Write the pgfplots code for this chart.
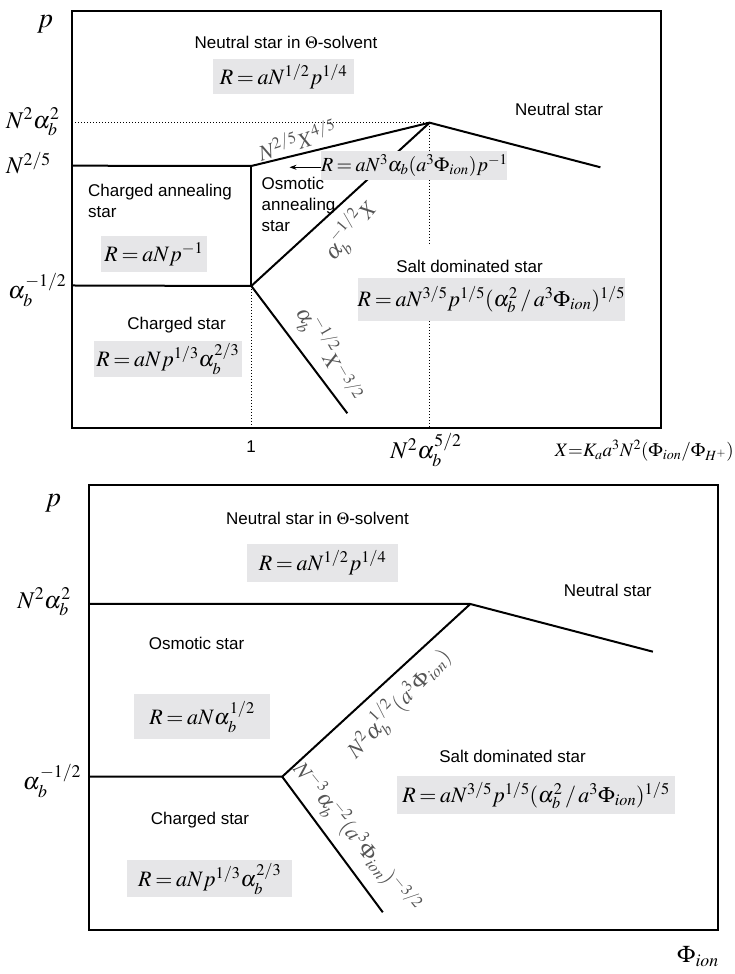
\documentclass[border=0pt]{standalone}
\usepackage{mathptmx}
\usepackage[no-math]{fontspec}
\setmainfont{Liberation Sans}
\usepackage{pgfplots}
\pgfplotsset{compat=1.18}
\usetikzlibrary{arrows.meta}
\definecolor{boxgray}{RGB}{230,230,232}
\definecolor{lblgray}{RGB}{85,85,85}
\newcommand{\tx}{\fontsize{17}{21}\selectfont}
\newcommand{\fm}{\fontsize{22}{26}\selectfont}
\newcommand{\fs}{\fontsize{20}{24}\selectfont}
\newcommand{\fl}{\fontsize{22}{24}\selectfont}
\thickmuskip=3mu plus 2mu
\tikzset{
  gbox/.style={fill=boxgray, inner sep=0pt, anchor=center, font=\fm},
  lab/.style={font=\tx, inner sep=0pt, anchor=center},
  rlab/.style={font=\fl, inner sep=0pt, anchor=center, text=lblgray},
}
\pgfplotsset{
  diag/.style={scale only axis, ticks=none, clip=false, axis line style={draw=none}},
  bline/.style={black, line width=2pt, no marks},
  dline/.style={black, line width=1pt, dotted, no marks},
}
\begin{document}
\begin{tikzpicture}[x=1pt,y=1pt]
\path[use as bounding box] (0,0) rectangle (734,974);
% ---------------- top panel ----------------
\begin{axis}[diag, at={(72,546)}, anchor=south west, width=589pt, height=417pt,
  xmin=72, xmax=661, ymin=546, ymax=963]
\addplot[dline] coordinates {(72,851.3) (429.6,851.3)};
\addplot[dline] coordinates {(251.3,688) (251.3,546)};
\addplot[dline] coordinates {(429.6,851.3) (429.6,731)};
\addplot[dline] coordinates {(429.6,653) (429.6,546)};
\addplot[bline] coordinates {(72,808.3) (251.3,808)};
\addplot[bline] coordinates {(251.3,808) (251.3,688)};
\addplot[bline] coordinates {(72,688.5) (251.3,688)};
\addplot[bline] coordinates {(251.3,808) (429.6,851.3) (600.4,806.7)};
\addplot[bline] coordinates {(251.3,688) (429.6,851.3)};
\addplot[bline] coordinates {(251.3,688) (347.3,560.7)};
\addplot[black, line width=0.8pt, no marks, -{Stealth[length=7pt,width=5pt]}] coordinates {(327,806.7) (289.5,806.7)};
\draw[line width=2.6pt, line join=miter] (rel axis cs:0,0) rectangle (rel axis cs:1,1);
% texts
\node[lab] at (286,931.5) {Neutral star in $\Theta$-solvent};
\node[gbox, minimum width=141pt, minimum height=35pt] at (283.5,897.3) {$R=aN^{1/2}p^{1/4}$};
\node[lab] at (559,865) {Neutral star};
\node[rlab, rotate=18] at (297,834) {$N^{2/5}X^{4/5}$};
\node[gbox, font=\fs, minimum width=177pt, minimum height=29pt] at (414.3,808.7) {$R=aN^3\alpha_b(a^3\Phi_{ion})p^{-1}$};
\node[lab, anchor=north west, align=left] at (261.5,797) {Osmotic\\annealing\\star};
\node[rlab, rotate=50] at (350,744) {$\alpha_b^{-1/2}X$};
\node[lab] at (469.5,707.5) {Salt dominated star};
\node[gbox, minimum width=260pt, minimum height=43pt] at (491.3,674.5) {$R=aN^{3/5}p^{1/5}(\alpha_b^2\,/\,a^3\Phi_{ion})^{1/5}$};
\node[lab, anchor=north west, align=left] at (88,790) {Charged annealing\\star};
\node[gbox, minimum width=106pt, minimum height=36pt] at (153.8,720) {$R=aNp^{-1}$};
\node[lab] at (176.6,648.5) {Charged star};
\node[gbox, minimum width=148pt, minimum height=36pt] at (167.8,615.3) {$R=aNp^{1/3}\alpha_b^{2/3}$};
\node[rlab, rotate=-60] at (329,620) {$\alpha_b^{-1/2}X^{-3/2}$};
% axis labels
\node[inner sep=0pt, font=\fontsize{28}{30}\selectfont] at (45,950) {$p$};
\node[inner sep=0pt, anchor=west, font=\fontsize{24}{26}\selectfont] at (6,852) {$N^2\alpha_b^2$};
\node[inner sep=0pt, anchor=west, font=\fontsize{24}{26}\selectfont] at (6,811) {$N^{2/5}$};
\node[inner sep=0pt, anchor=west, font=\fontsize{24}{26}\selectfont] at (8,684) {$\alpha_b^{-1/2}$};
\node[lab] at (251,527) {1};
\node[inner sep=0pt, font=\fontsize{24}{26}\selectfont] at (426,524) {$N^2\alpha_b^{5/2}$};
\node[inner sep=0pt, anchor=east, font=\fontsize{19}{22}\selectfont] at (734,523) {$X{=}K_a a^3N^2(\Phi_{ion}/\Phi_{H^+})$};
\end{axis}
% ---------------- bottom panel ----------------
\begin{axis}[diag, at={(89,44)}, anchor=south west, width=629pt, height=445pt,
  xmin=89, xmax=718, ymin=44, ymax=489]
\addplot[bline] coordinates {(89,370) (470.3,370) (652.9,322.3)};
\addplot[bline] coordinates {(470.3,370) (282.2,197.3)};
\addplot[bline] coordinates {(89,197.3) (282.2,197.3) (382.8,61.7)};
\draw[line width=2.6pt, line join=miter] (rel axis cs:0,0) rectangle (rel axis cs:1,1);
\node[lab] at (317.5,455.5) {Neutral star in $\Theta$-solvent};
\node[gbox, minimum width=151pt, minimum height=38pt] at (322.5,411.2) {$R=aN^{1/2}p^{1/4}$};
\node[lab] at (607.7,384) {Neutral star};
\node[lab] at (196.6,330.7) {Osmotic star};
\node[gbox, minimum width=136pt, minimum height=45pt] at (202,257.3) {$R=aN\alpha_b^{1/2}$};
\node[lab] at (200,154) {Charged star};
\node[gbox, minimum width=165pt, minimum height=37pt] at (209.7,95.3) {$R=aNp^{1/3}\alpha_b^{2/3}$};
\node[lab] at (512.5,218) {Salt dominated star};
\node[gbox, minimum width=278pt, minimum height=38pt] at (536,178.5) {$R=aN^{3/5}p^{1/5}(\alpha_b^2\,/\,a^3\Phi_{ion})^{1/5}$};
\node[rlab, rotate=47] at (398,271) {$N^2\alpha_b^{1/2}(a^3\Phi_{ion})$};
\node[rlab, rotate=-51] at (356,136) {$N^{-3}\alpha_b^{-2}(a^3\Phi_{ion})^{-3/2}$};
\node[inner sep=0pt, font=\fontsize{28}{30}\selectfont] at (53,471) {$p$};
\node[inner sep=0pt, font=\fontsize{24}{26}\selectfont] at (44,372) {$N^2\alpha_b^2$};
\node[inner sep=0pt, font=\fontsize{24}{26}\selectfont] at (52,193) {$\alpha_b^{-1/2}$};
\node[inner sep=0pt, anchor=base west, font=\fontsize{24}{26}\selectfont] at (677,11) {$\Phi_{ion}$};
\end{axis}
\end{tikzpicture}
\end{document}
